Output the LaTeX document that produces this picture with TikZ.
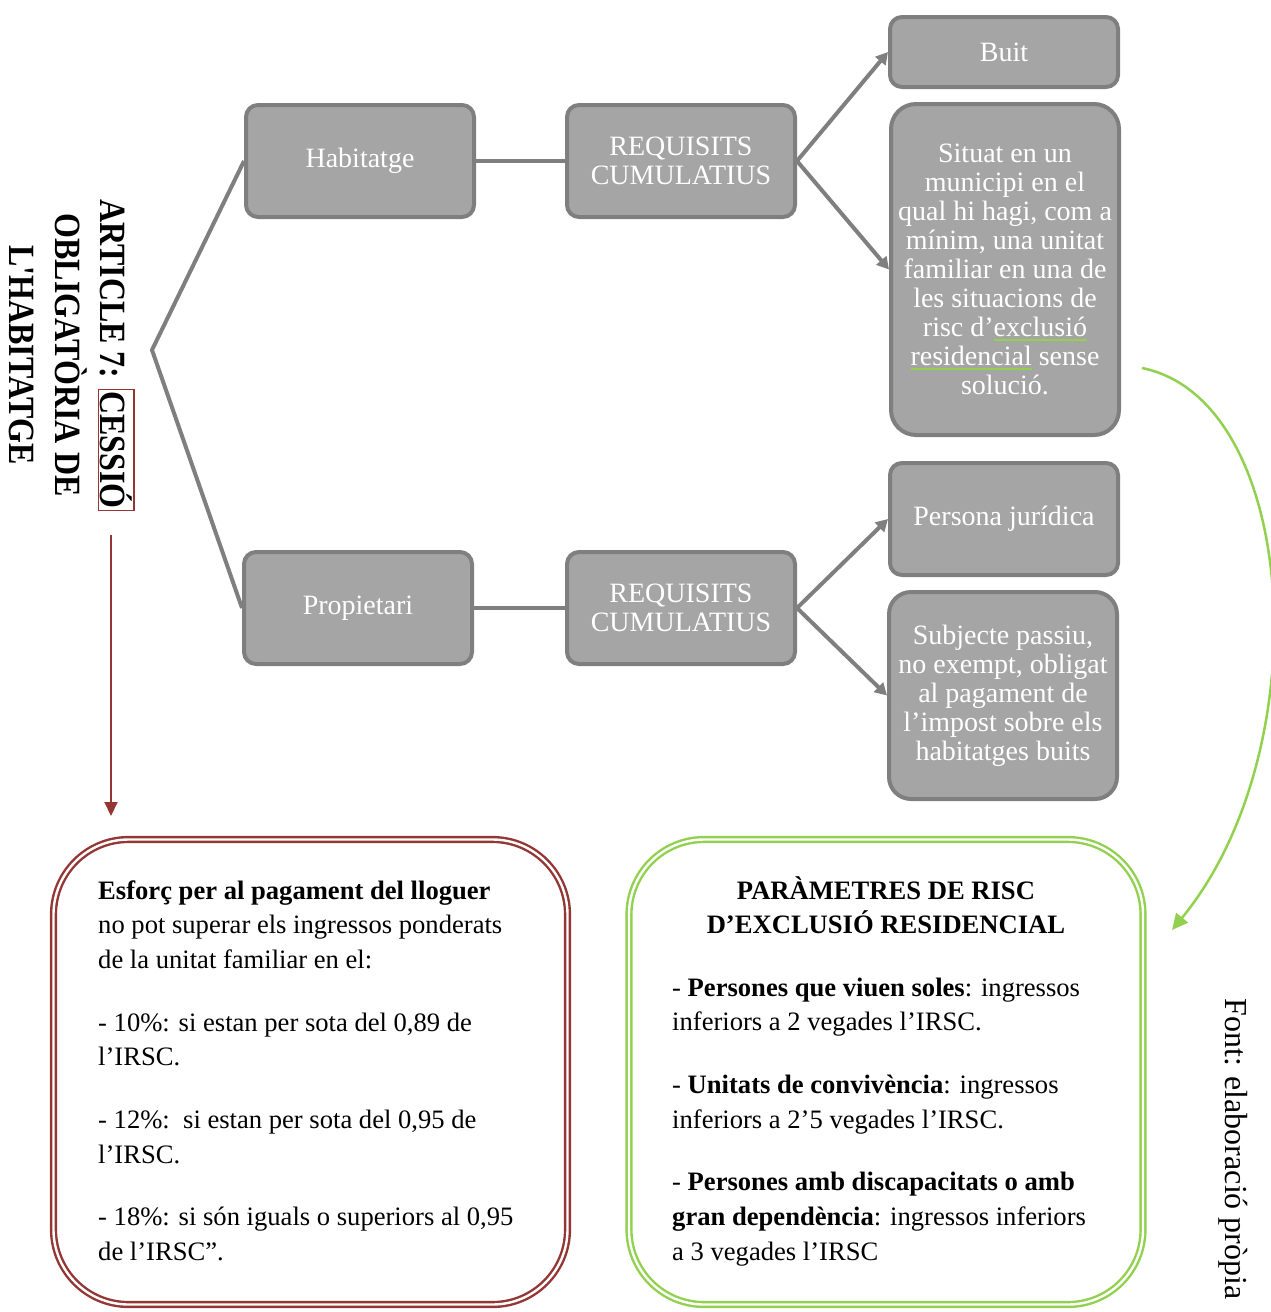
\documentclass[tikz,border=0pt]{standalone}
\usepackage{fontspec}
\setmainfont{Liberation Serif}
\usepackage{graphicx}
\usetikzlibrary{arrows.meta}
\definecolor{boxfill}{HTML}{A5A5A5}
\definecolor{boxline}{HTML}{7F7F7F}
\definecolor{darkred}{HTML}{943634}
\definecolor{lgreen}{HTML}{92D050}
\newcommand\gunder[1]{\setbox0=\hbox{#1}\rlap{\color{lgreen}\rule[-4pt]{\wd0}{1.5pt}}\box0\relax}
\newcommand\redframe[1]{{\setlength\fboxsep{1pt}\setlength\fboxrule{1.5pt}\fcolorbox{darkred}{white}{#1}}}
\begin{document}
\begin{tikzpicture}[x=1pt,y=-1pt,
  gbox/.style={draw=boxline, fill=boxfill, line width=4pt, rounded corners=12pt,
    text=white, align=center, font=\fontsize{28}{29}\selectfont, inner sep=0pt,
    minimum width=228pt, minimum height=112pt},
  conn/.style={draw=boxline, line width=4pt},
  arr/.style={conn, -{Triangle[length=12pt,width=13pt]}},
  redarr/.style={draw=darkred, line width=2pt, -{Triangle[length=14pt,width=13pt]}},
  grnarr/.style={draw=lgreen, line width=2.5pt, -{Triangle[length=16pt,width=15pt]}},
  bigbox/.style={line width=2.4pt, double=white, double distance=2.4pt,
    rounded corners=75pt, minimum width=514pt, minimum height=465pt, inner sep=0pt},
  bodytext/.style={inner sep=0pt, anchor=base west}
]
\useasboundingbox (0,0) rectangle (1271,1312);

\coordinate (fork) at (152,350);

% gray boxes
\node[gbox] (hab) at (360,161) {Habitatge};
\node[gbox] (req1) at (681,161) {REQUISITS\\CUMULATIUS};
\node[gbox, minimum height=70pt] (buit) at (1004,52) {Buit};
\node[gbox, minimum height=331pt, rounded corners=25pt] (sit) at (1005,269.5)
  {Situat en un\\municipi en el\\qual hi hagi, com a\\mínim, una unitat\\familiar en una de\\les situacions de\\risc d’\gunder{exclusió}\\\gunder{residencial} sense\\solució.};
\node[gbox] (prop) at (358,608) {Propietari};
\node[gbox] (req2) at (681,608) {REQUISITS\\CUMULATIUS};
\node[gbox] (pers) at (1004,519) {Persona jurídica};
\node[gbox, minimum height=207pt, rounded corners=22pt] (subj) at (1003,695.5)
  {Subjecte passiu,\\no exempt, obligat\\al pagament de\\l’impost sobre els\\habitatges buits};

\draw[conn, line join=miter] (hab.west) -- (fork) -- (prop.west);
\draw[conn] (hab.east) -- (req1.west);
\draw[conn] (prop.east) -- (req2.west);
\draw[arr] (req1.east) -- (buit.west);
\draw[arr] (req1.east) -- (sit.west);
\draw[arr] (req2.east) -- (pers.west);
\draw[arr] (req2.east) -- (subj.west);

% rotated title
\node[rotate=-90, align=center, inner sep=0pt, font=\bfseries\fontsize{37}{45.5}\selectfont] (title) at (72,355)
  {\scalebox{0.865}[1]{ARTICLE 7: \redframe{CESSIÓ}}\\\scalebox{0.865}[1]{OBLIGATÒRIA DE}\\\scalebox{0.865}[1]{L\textquotesingle HABITATGE}};

\coordinate (rs) at (111,535);
\coordinate (re) at (111,816);
\draw[redarr] (rs) -- (re);

% bottom boxes
\node[bigbox, draw=darkred] (redbox) at (310.5,1072) {};
\node[bigbox, draw=lgreen] (grnbox) at (886,1072) {};

\node[bodytext] (rtext) at (98,899) {\parbox[t]{470pt}{\raggedright\fontsize{26.6}{34.7}\selectfont
  \textbf{Esforç per al pagament del lloguer}\\
  no pot superar els ingressos ponderats\\
  de la unitat familiar en el:\\[28pt]
  - 10\%: si estan per sota del 0,89 de\\
  l’IRSC.\\[28pt]
  - 12\%:\ \ si estan per sota del 0,95 de\\
  l’IRSC.\\[28pt]
  - 18\%: si són iguals o superiors al 0,95\\
  de l’IRSC”.}};

\node[inner sep=0pt, anchor=base] (ghead) at (886,899) {\parbox[t]{480pt}{\centering\bfseries\fontsize{26.6}{34.7}\selectfont
  PARÀMETRES DE RISC\\D’EXCLUSIÓ RESIDENCIAL}};

\node[bodytext] (gtext) at (672,996) {\parbox[t]{470pt}{\raggedright\fontsize{26.6}{34.7}\selectfont
  - \textbf{Persones que viuen soles}: ingressos\\
  inferiors a 2 vegades l’IRSC.\\[28pt]
  - \textbf{Unitats de convivència}: ingressos\\
  inferiors a 2’5 vegades l’IRSC.\\[28pt]
  - \textbf{Persones amb discapacitats o amb}\\
  \textbf{gran dependència}: ingressos inferiors\\
  a 3 vegades l’IRSC}};

% green curved arrow
\coordinate (gs) at (1142,368);
\coordinate (ge) at (1172,930);
\draw[grnarr] (gs) .. controls (1300,400) and (1320,750) .. (ge);

% source note
\node[rotate=-90, anchor=base, inner sep=0pt, font=\fontsize{32}{38}\selectfont] (src) at (1225,1149) {Font: elaboració pròpia};
\end{tikzpicture}
\end{document}
